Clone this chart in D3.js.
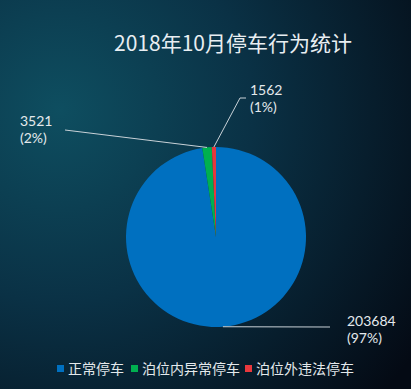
<!DOCTYPE html>
<html>
<head>
<meta charset="utf-8">
<script src="https://cdn.jsdelivr.net/npm/d3@7"></script>
<style>
  html, body { margin: 0; padding: 0; background: #06121e; }
  svg { display: block; font-family: "Noto Sans CJK SC", "Noto Sans", sans-serif; }
  .val { font-family: Lato, "Liberation Sans", sans-serif; }
</style>
</head>
<body>
<svg id="chart" width="411" height="389"></svg>
<script>
const title = "2018年10月停车行为统计"
const categories = ["正常停车", "泊位内异常停车", "泊位外违法停车"]
const values = [203684, 3521, 1562]
const percents = ["97%", "2%", "1%"]
const colors = ["#0070c0", "#00b050", "#e8383d"]

const W = 411, H = 389
const cx = 216, cy = 237, R = 90

const svg = d3.select("#chart")

// background gradient
const defs = svg.append("defs")
const grad = defs.append("radialGradient")
  .attr("id", "bg")
  .attr("gradientUnits", "userSpaceOnUse")
  .attr("cx", 60).attr("cy", 110).attr("r", 430)
grad.append("stop").attr("offset", "0%").attr("stop-color", "#0e4e60")
grad.append("stop").attr("offset", "45%").attr("stop-color", "#0a3145")
grad.append("stop").attr("offset", "100%").attr("stop-color", "#040a14")
svg.append("rect").attr("width", W).attr("height", H).attr("fill", "url(#bg)")

svg.append("text")
  .attr("x", 233).attr("y", 51)
  .attr("text-anchor", "middle")
  .attr("fill", "#e8eef2")
  .style("font-size", "21px")
  .text(title)

const pie = d3.pie().sort(null).value(d => d)
const arcs = pie(values)
const arc = d3.arc().innerRadius(0).outerRadius(R)
const outer = d3.arc().innerRadius(R).outerRadius(R)

const g = svg.append("g").attr("transform", `translate(${cx},${cy})`)
g.selectAll("path")
  .data(arcs)
  .enter().append("path")
    .attr("d", arc)
    .attr("fill", (d, i) => colors[i])

// label anchors (where the leader line ends) and text spots
const labelPos = [
  { end: [330, 327], text: [347, 326] },
  { end: [65, 130], text: [20, 126] },
  { end: [240, 98], elbow: [246, 98], text: [250, 95] }
]

const lbl = svg.append("g")
arcs.forEach((d, i) => {
  const c = outer.centroid(d)
  const p = labelPos[i]
  const pts = [[cx + c[0], cy + c[1]], p.end]
  if (p.elbow) pts.push(p.elbow)
  lbl.append("path")
    .attr("d", d3.line()(pts))
    .attr("fill", "none")
    .attr("stroke", "#c9d2d8")
    .attr("stroke-width", 1)
  lbl.append("text")
    .attr("class", "val")
    .attr("x", p.text[0]).attr("y", p.text[1])
    .attr("fill", "#e4e9ec")
    .style("font-size", "14px")
    .text(values[i])
  lbl.append("text")
    .attr("class", "val")
    .attr("x", p.text[0]).attr("y", p.text[1] + 17)
    .attr("fill", "#e4e9ec")
    .style("font-size", "14px")
    .text("(" + percents[i] + ")")
})

// legend
const legendX = [57, 131, 245]
const leg = svg.append("g")
categories.forEach((c, i) => {
  leg.append("rect")
    .attr("x", legendX[i]).attr("y", 365)
    .attr("width", 7).attr("height", 7)
    .attr("fill", colors[i])
  leg.append("text")
    .attr("x", legendX[i] + 11).attr("y", 374)
    .attr("fill", "#e4e9ec")
    .style("font-size", "14px")
    .text(c)
})
</script>
</body>
</html>
